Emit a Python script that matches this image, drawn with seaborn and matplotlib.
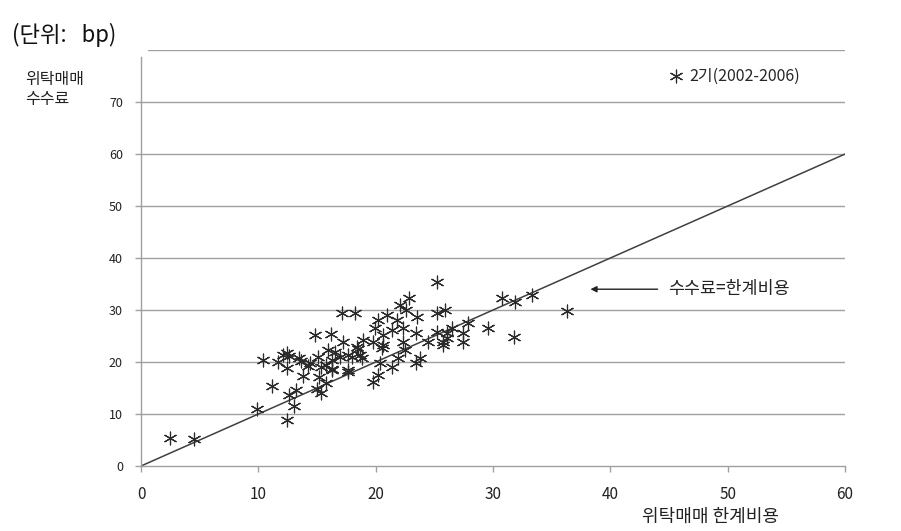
import matplotlib
matplotlib.use("Agg")
import matplotlib.pyplot as plt
import seaborn as sns
import pandas as pd

# marginal cost (x) vs. commission (y), bp
cost = [2.5, 4.5, 9.9, 12.4, 11.2, 12.6, 13.2, 13.0, 10.4, 11.7, 12.4, 12.6, 13.5, 12.4,
        13.8, 14.2, 15.1, 15.8, 15.2, 15.0, 15.3, 15.8, 16.3, 17.6, 14.8, 16.2, 17.1, 18.2,
        17.2, 15.9, 16.5, 17.6, 18.5, 18.0, 18.8, 14.4, 16.3, 15.3, 16.3, 17.6, 18.9, 19.8,
        20.6, 19.9, 20.2, 21.0, 21.8, 21.4, 20.6, 22.3, 22.3, 22.5, 22.1, 22.8, 22.6, 25.2,
        23.5, 23.4, 25.2, 25.9, 25.2, 26.1, 24.5, 25.7, 23.8, 26.5, 27.9, 27.4, 26.1, 27.4,
        25.7, 29.6, 31.8, 30.8, 31.9, 33.3, 36.3, 20.4, 21.4, 21.9, 23.4, 20.2, 19.8, 20.5,
        18.7, 17.0, 18.4, 12.1, 13.6]
fee = [5.4, 5.2, 11.0, 8.8, 15.4, 13.7, 14.6, 11.5, 20.4, 20.0, 21.7, 21.2, 20.8, 18.8,
       17.3, 19.2, 21.0, 19.4, 17.1, 14.8, 14.0, 16.0, 18.7, 18.1, 25.2, 25.4, 29.4, 29.4,
       23.8, 22.3, 21.9, 21.3, 22.5, 21.0, 20.8, 19.8, 20.4, 19.0, 18.5, 18.5, 24.2, 23.8,
       23.3, 26.5, 28.1, 29.0, 28.1, 26.2, 25.2, 26.5, 23.8, 22.3, 31.0, 32.3, 30.0, 35.4,
       28.7, 25.6, 29.4, 30.0, 25.8, 25.6, 23.8, 23.8, 20.8, 26.5, 27.5, 25.6, 24.6, 23.8,
       23.3, 26.5, 24.8, 32.3, 31.5, 32.9, 29.8, 19.8, 19.0, 20.8, 19.8, 17.5, 16.2, 22.7,
       21.3, 21.0, 22.9, 21.3, 20.2]
series_label = "2기(2002-2006)"

line_x = [0, 60]
line_y = [0, 60]
line_label = "수수료=한계비용"

x_ticks = [0, 10, 20, 30, 40, 50, 60]
y_ticks = [0, 10, 20, 30, 40, 50, 60, 70]
grid_levels = [10, 20, 30, 40, 50, 60, 70, 80]

x_title = "위탁매매 한계비용"
y_title = "위탁매매\n수수료"
unit_text = "(단위:   bp)"

sns.set_theme(style="white")
plt.rcParams["font.family"] = ["Noto Sans CJK KR", "DejaVu Sans"]

df = pd.DataFrame({"cost": cost, "fee": fee})
dline = pd.DataFrame({"x": line_x, "y": line_y})

fig = plt.figure(figsize=(9.01, 5.31), dpi=100)
ax = fig.add_axes([0.1565, 0.1224, 0.7814, 0.7834])

grid_c = "#a0a0a0"
for yv in grid_levels:
    ax.axhline(yv, color=grid_c, lw=1.0, zorder=0,
               xmin=(0.01 if yv == grid_levels[-1] else 0))

sns.lineplot(data=dline, x="x", y="y", ax=ax, color="#404040", lw=1.1,
             label="_nolegend_", zorder=2)
sns.scatterplot(data=df, x="cost", y="fee", ax=ax, marker=(6, 2, 0), s=85,
                color="#2a2a2a", linewidth=0.85, label=series_label, zorder=3)

ax.set_xlim(0, 60)
ax.set_ylim(0, 80)
ax.set_xticks(x_ticks)
ax.set_yticks(y_ticks)
ax.set_xlabel("")
ax.set_ylabel("")

for s in ["top", "right"]:
    ax.spines[s].set_visible(False)
for s in ["left", "bottom"]:
    ax.spines[s].set_color(grid_c)
    ax.spines[s].set_linewidth(1.0)
ax.spines["left"].set_bounds(0, 78.7)

ax.tick_params(axis="y", which="major", direction="out", length=4, width=1,
               color=grid_c, pad=9, labelsize=9, labelcolor="#222222", left=True)
ax.tick_params(axis="x", which="major", direction="out", length=4, width=1,
               color=grid_c, pad=10.5, labelsize=11, labelcolor="#222222", bottom=True)

leg = ax.legend(loc="center right", bbox_to_anchor=(0.945, 0.9375), frameon=False,
                handletextpad=-0.2, markerscale=1.0, fontsize=11.5, borderaxespad=0)

ax.annotate(line_label, xy=(38.3, 34.0), xytext=(44.9, 34.0),
            ha="left", va="center", fontsize=12.5, color="#222222",
            arrowprops=dict(arrowstyle="-|>", color="#222222", lw=1.0,
                            shrinkA=5, shrinkB=0, mutation_scale=9))

fig.text(0.013, 0.934, unit_text, ha="left", va="center", fontsize=16, color="#111111")
fig.text(0.028, 0.832, y_title, ha="left", va="center", fontsize=11.5, color="#222222",
         linespacing=1.2)
fig.text(0.789, 0.026, x_title, ha="center", va="center", fontsize=13, color="#222222")

fig.savefig("out.png", dpi=100)
